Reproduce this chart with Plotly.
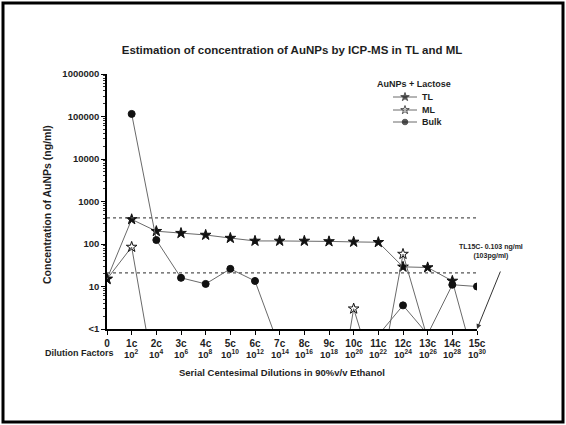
import plotly.graph_objects as go

# ---- data ----
categories = ["0", "1c", "2c", "3c", "4c", "5c", "6c", "7c", "8c", "9c",
              "10c", "11c", "12c", "13c", "14c", "15c"]
dilution_exponents = ["2", "4", "6", "8", "10", "12", "14", "16", "18", "20",
                      "22", "24", "26", "28", "30"]
tl_values = [15, 380, 200, 180, 163, 138, 118, 118, 118, 115,
             112, 110, 29, 28, 13.5, 0.103]
ml_values = [15, 85, 0.04, 0.04, 0.04, 0.04, 0.04, 0.04, 0.01, 0.001,
             3, 0.04, 58, 0.58, 0.5, 0.5]
bulk_values = [None, 115000, 124, 16, 11.5, 26, 13.5, 0.36, 0.3, 0.3,
               0.3, 0.72, 3.6, 0.75, 11, 10]
ref_lines = [410, 21]
y_tick_vals = [1, 10, 100, 1000, 10000, 100000, 1000000]
y_tick_text = ["<1", "10", "100", "1000", "10000", "100000", "1000000"]

FONT = "Liberation Sans"
TXT = "#1e1e1e"
x_idx = list(range(len(categories)))

# plot area in pixels
PL, PR, PT, PB = 107, 477, 74, 329


def px(xp):
    return (xp - PL) / (PR - PL)


def py(yp):
    return (PB - yp) / (PB - PT)


fig = go.Figure()

series = [
    ("TL", tl_values, "star", 8),
    ("ML", ml_values, "star-open", 8),
    ("Bulk", bulk_values, "circle", 7),
]
for name, vals, sym, sz in series:
    fig.add_trace(go.Scatter(
        x=x_idx, y=vals, mode="lines+markers", name=name,
        showlegend=False, cliponaxis=True,
        line=dict(color="#6a6a6a", width=1),
        marker=dict(symbol=sym, size=sz, color="#111111",
                    line=dict(color="#111111", width=1)),
    ))

# manual legend (symbols on an overlay axis that maps to the plot area)
legend_rows = [97, 110, 122]
for (name, vals, sym, sz), row in zip(series, legend_rows):
    fig.add_trace(go.Scatter(
        x=[px(393), px(405), px(417)], y=[py(row)] * 3,
        xaxis="x2", yaxis="y2", mode="lines+markers", showlegend=False,
        hoverinfo="skip",
        line=dict(color="#6a6a6a", width=1),
        marker=dict(symbol=sym, size=[0, sz * 0.8, 0], color="#111111",
                    line=dict(color="#111111", width=1)),
    ))
    fig.add_annotation(x=px(420), y=py(row), xref="paper", yref="paper",
                       xanchor="left", yanchor="middle", text="<b>" + name + "</b>",
                       showarrow=False, font=dict(family=FONT, size=9, color=TXT))
fig.add_annotation(x=px(375), y=py(84), xref="paper", yref="paper",
                   xanchor="left", yanchor="middle", text="<b>AuNPs + Lactose</b>",
                   showarrow=False, font=dict(family=FONT, size=9, color=TXT))

for v in ref_lines:
    fig.add_shape(type="line", xref="x", yref="y", x0=0, x1=15.2,
                  y0=v, y1=v, line=dict(color="#555555", width=1.2, dash="dot"))

# frame around figure
fig.add_shape(type="rect", xref="paper", yref="paper",
              x0=px(3), x1=px(563), y0=py(422), y1=py(3),
              line=dict(color="black", width=3), fillcolor="rgba(0,0,0,0)")

# dilution factor labels
for i, e in enumerate(dilution_exponents):
    fig.add_annotation(x=i + 1, y=py(346), xref="x", yref="paper",
                       xanchor="center", yanchor="top",
                       text="<b>10<sup>" + e + "</sup></b>", showarrow=False,
                       font=dict(family=FONT, size=9.5, color=TXT))
fig.add_annotation(x=px(79), y=py(353), xref="paper", yref="paper",
                   xanchor="center", yanchor="middle",
                   text="<b>Dilution Factors</b>", showarrow=False,
                   font=dict(family=FONT, size=9, color=TXT))
fig.add_annotation(x=px(282), y=py(372), xref="paper", yref="paper",
                   xanchor="center", yanchor="middle",
                   text="<b>Serial Centesimal Dilutions in 90%v/v Ethanol</b>",
                   showarrow=False, font=dict(family=FONT, size=9.5, color=TXT))
fig.add_annotation(x=px(47), y=py(205), xref="paper", yref="paper",
                   xanchor="center", yanchor="middle",
                   text="<b>Concentration of AuNPs (ng/ml)</b>", textangle=-90,
                   showarrow=False, font=dict(family=FONT, size=10.5, color=TXT))
fig.add_annotation(x=px(491), y=py(251), xref="paper", yref="paper",
                   xanchor="center", yanchor="middle",
                   text="<b>TL15C- 0.103 ng/ml</b><br><b>(103pg/ml)</b>",
                   showarrow=False, font=dict(family=FONT, size=7, color=TXT))
fig.add_annotation(x=15, y=0, xref="x", yref="y", text="", showarrow=True,
                   ax=24, ay=-59, arrowhead=2, arrowsize=1, arrowwidth=1,
                   arrowcolor="#333")

fig.update_layout(
    width=566, height=425,
    margin=dict(l=PL, r=566 - PR, t=PT, b=425 - PB),
    paper_bgcolor="white", plot_bgcolor="white",
    showlegend=False,
    title=dict(text="<b>Estimation of concentration of AuNPs by ICP-MS in TL and ML</b>",
               x=292 / 566, xanchor="center", y=1 - 50 / 425, yanchor="middle",
               font=dict(family=FONT, size=11.5, color=TXT)),
    font=dict(family=FONT, color=TXT),
    xaxis=dict(range=[0, 15], tickmode="array", tickvals=x_idx,
               ticktext=["<b>" + c + "</b>" for c in categories],
               showline=True, linecolor="black", linewidth=1.5,
               ticks="outside", ticklen=4, tickcolor="black", tickwidth=1.2,
               showgrid=False, zeroline=False,
               tickfont=dict(family=FONT, size=10, color=TXT)),
    yaxis=dict(type="log", range=[0, 6], tickmode="array", tickvals=y_tick_vals,
               ticktext=["<b>" + t + "</b>" for t in y_tick_text],
               showline=True, linecolor="black", linewidth=1.5,
               ticks="outside", ticklen=4, tickcolor="black", tickwidth=1.2,
               showgrid=False, zeroline=False,
               minor=dict(ticks="outside", ticklen=2, tickcolor="#333",
                          tickvals=[m * 10 ** d for d in range(6) for m in range(2, 10)]),
               tickfont=dict(family=FONT, size=9.5, color=TXT)),
    xaxis2=dict(overlaying="x", range=[0, 1], visible=False, fixedrange=True),
    yaxis2=dict(overlaying="y", range=[0, 1], visible=False, fixedrange=True),
)

fig.write_html("out.html", config={"displayModeBar": False},
               post_script="document.body.style.margin='0';"
                           "document.body.style.overflow='hidden';")
